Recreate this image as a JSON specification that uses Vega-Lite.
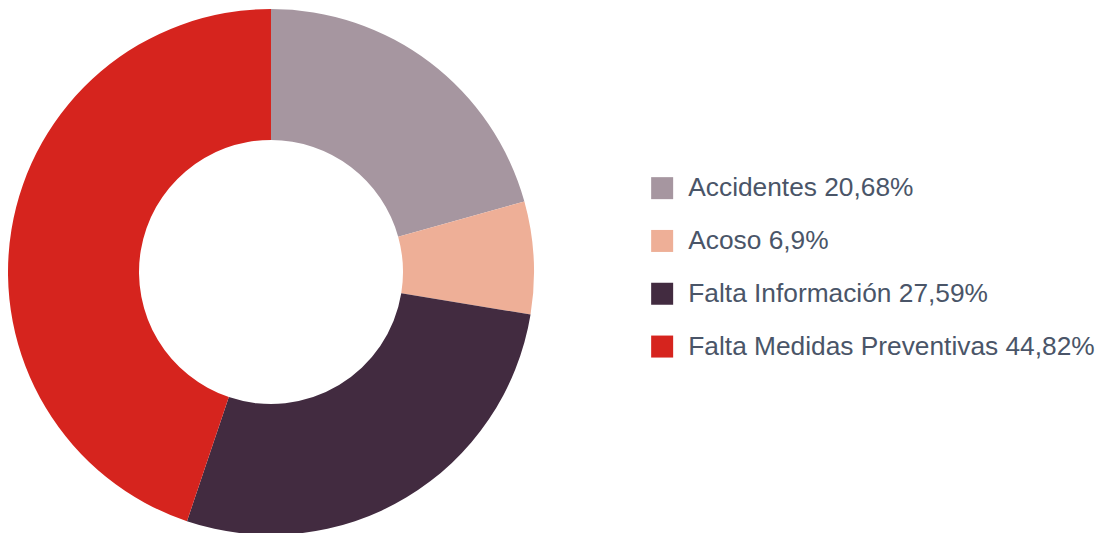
{
  "$schema": "https://vega.github.io/schema/vega-lite/v6.json",
  "autosize": {"type": "none"},
  "padding": {"left": 0, "top": 0, "right": 575, "bottom": 0},
  "width": 542,
  "height": 544,
  "background": "white",
  "config": {"view": {"stroke": null}, "font": "Liberation Sans"},
  "data": {
    "values": [
      {"categoria": "Accidentes 20,68%", "valor": 20.68, "orden": 1},
      {"categoria": "Acoso 6,9%", "valor": 6.9, "orden": 2},
      {"categoria": "Falta Información 27,59%", "valor": 27.59, "orden": 3},
      {"categoria": "Falta Medidas Preventivas 44,82%", "valor": 44.82, "orden": 4}
    ]
  },
  "mark": {"type": "arc", "outerRadius": 263, "innerRadius": 132},
  "encoding": {
    "theta": {"field": "valor", "type": "quantitative", "stack": true},
    "order": {"field": "orden", "type": "quantitative", "sort": "ascending"},
    "color": {
      "field": "categoria",
      "type": "nominal",
      "sort": ["Accidentes 20,68%", "Acoso 6,9%", "Falta Información 27,59%", "Falta Medidas Preventivas 44,82%"],
      "scale": {
        "domain": ["Accidentes 20,68%", "Acoso 6,9%", "Falta Información 27,59%", "Falta Medidas Preventivas 44,82%"],
        "range": ["#A696A0", "#EEAF97", "#422B40", "#D6241E"]
      },
      "legend": {
        "title": null,
        "orient": "none",
        "legendX": 649,
        "legendY": 175,
        "symbolType": "square",
        "symbolSize": 484,
        "symbolStrokeWidth": 0,
        "symbolOpacity": 1,
        "labelFontSize": 26.3,
        "labelColor": "#4A5568",
        "labelFont": "Liberation Sans",
        "labelOffset": 13,
        "labelLimit": 600,
        "rowPadding": 25.8
      }
    }
  }
}
